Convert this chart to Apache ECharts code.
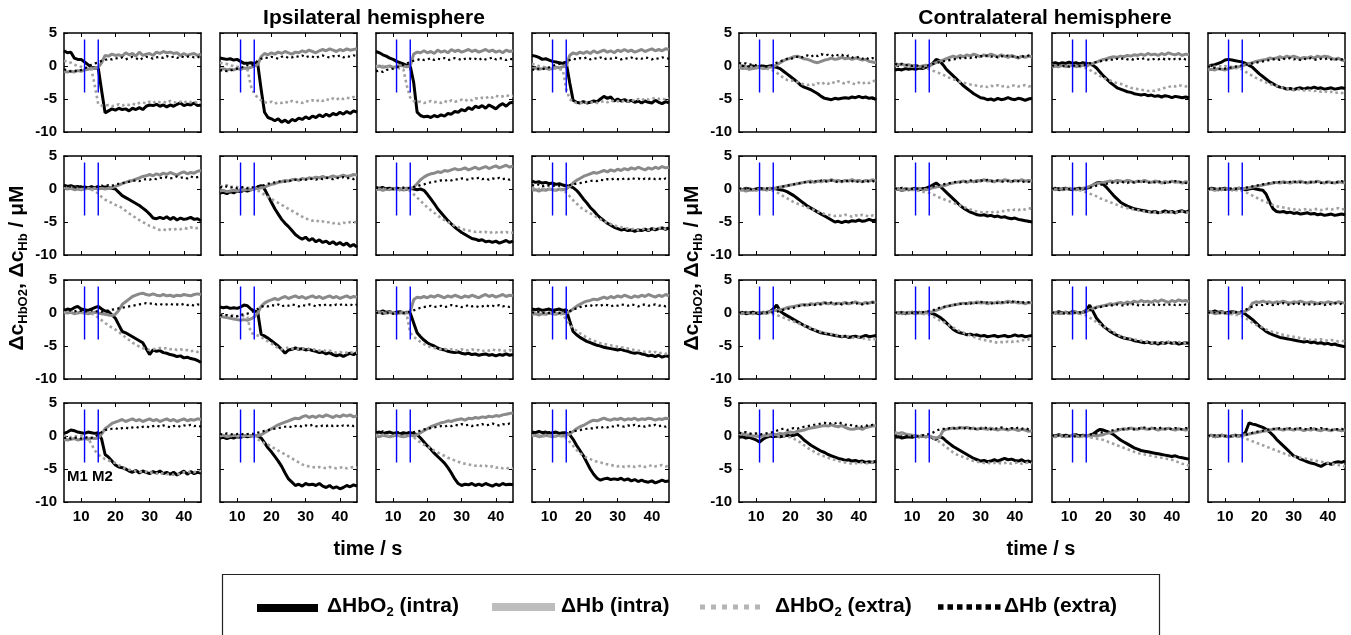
<!DOCTYPE html>
<html><head><meta charset="utf-8">
<script src="https://cdn.jsdelivr.net/npm/echarts@6/dist/echarts.min.js"></script>
<style>html,body{margin:0;padding:0;background:#fff}#c{width:1351px;height:635px}</style>
</head><body><div id="c"></div>
<script>
// time axis (s)
const time = [5,6,7,8,9,10,11,12,13,14,15,16,17,18,19,20,21,22,23,24,25,26,27,28,29,30,31,32,33,34,35,36,37,38,39,40,41,42,43,44,45];
const xTicks = [10,20,30,40];
const yTicks = [-10,-5,0,5];
const markerTimes = [11,15];
const markerSpan = [-4,4];
const markerLabels = ['M1','M2'];
// naming: I = ipsilateral, C = contralateral, row, col; a = dHbO2 intra, b = dHb intra, c = dHbO2 extra, d = dHb extra
const I11a=[2.3,2.0,2.1,1.2,1.0,1.0,0.6,0.2,-0.2,-0.3, -0.3,-3.8,-7.1,-6.8,-6.5,-6.7,-6.4,-6.6,-6.5,-6.8, -6.4,-6.6,-6.3,-6.6,-6.1,-5.9,-6.0,-5.8,-6.1,-5.9, -6.2,-5.9,-6.1,-5.8,-5.6,-6.0,-5.8,-5.9,-5.6,-6.0,-5.9];
const I11b=[-0.8,-0.9,-0.8,-0.9,-0.7,-0.8,-0.6,-0.5,-0.3,-0.4, -0.2,0.5,1.6,1.5,1.8,1.6,1.7,1.5,2.0,1.7, 1.9,1.5,2.1,1.6,1.8,1.9,1.6,2.1,1.9,2.2, 2.0,2.1,1.9,2.0,1.6,1.9,1.6,1.8,1.9,1.6,1.8];
const I11c=[0.8,0.7,0.5,0.2,0.0,-0.1,-0.3,-0.3,-0.5,-3.0, -5.8,-6.0,-6.0,-5.9,-6.1,-6.0,-5.8,-6.0,-5.8,-5.9, -5.7,-5.9,-5.6,-5.5,-5.7,-5.4,-5.6,-5.3,-5.5,-5.4, -5.6,-5.3,-5.5,-5.6,-5.4,-5.6,-5.3,-5.5,-5.4,-5.6,-5.5];
const I11d=[-0.5,-0.7,-0.8,-0.7,-0.8,-0.6,-0.4,-0.1,0.2,0.4, 0.5,0.8,0.9,1.1,1.0,1.2,1.1,1.3,1.0,1.2, 1.4,1.2,0.9,1.2,1.4,1.3,1.1,1.3,1.4,1.2, 1.5,1.3,1.4,1.2,1.5,1.3,1.4,1.5,1.3,1.4,1.2];
const I12a=[1.2,1.1,1.0,1.1,0.9,1.0,0.7,0.4,0.4,0.5, 0.4,0.4,-3.5,-7.0,-7.8,-8.0,-8.3,-8.0,-8.5,-8.2, -8.6,-8.1,-8.3,-7.9,-8.1,-7.7,-8.0,-7.6,-7.8,-7.4, -7.7,-7.3,-7.6,-7.2,-7.4,-7.0,-7.3,-6.9,-7.2,-6.8,-7.0];
const I12b=[-0.5,-0.4,-0.6,-0.5,-0.6,-0.4,-0.5,-0.3,-0.4,-0.2, 0.0,0.2,1.4,1.9,1.7,2.0,1.8,2.1,1.9,2.2, 2.0,1.8,2.1,2.0,2.3,2.1,2.4,2.2,2.0,2.3, 2.5,2.3,2.6,2.4,2.2,2.5,2.3,2.6,2.4,2.5,2.6];
const I12c=[0.5,0.4,0.3,0.1,0.0,-0.1,-0.2,-0.3,-0.5,-3.0, -4.2,-4.8,-5.2,-5.5,-5.6,-5.4,-5.7,-5.5,-5.6,-5.4, -5.6,-5.3,-5.5,-5.4,-5.6,-5.3,-5.4,-5.2,-5.4,-5.1, -5.3,-5.0,-5.2,-4.9,-5.1,-4.8,-5.0,-4.8,-4.9,-4.7,-4.8];
const I12d=[-0.7,-0.6,-0.8,-0.7,-0.5,-0.4,-0.3,-0.1,0.1,0.0, 0.3,0.8,1.1,1.3,1.2,1.4,1.3,1.1,1.4,1.5, 1.2,1.3,1.5,1.4,1.6,1.3,1.5,1.4,1.2,1.5, 1.6,1.4,1.3,1.5,1.4,1.6,1.3,1.5,1.4,1.6,1.5];
const I13a=[2.2,2.0,1.7,1.5,1.2,1.0,0.7,0.5,0.3,0.1, 0.0,-2.5,-7.0,-7.5,-7.7,-7.6,-7.8,-7.5,-7.7,-7.4, -7.6,-7.2,-7.3,-6.9,-7.0,-6.6,-6.8,-6.3,-6.6,-6.1, -6.3,-6.0,-6.4,-5.9,-6.2,-6.5,-6.0,-5.7,-6.1,-5.6,-5.5];
const I13b=[-0.1,0.0,-0.2,-0.1,0.0,-0.2,-0.1,0.1,0.0,-0.1, 0.0,1.8,2.1,2.0,2.3,2.0,2.2,1.9,2.4,2.1, 2.3,2.0,2.5,2.2,2.4,2.1,2.3,2.5,2.2,2.4, 2.1,2.3,2.5,2.2,2.4,2.1,2.3,2.0,2.4,2.2,2.3];
const I13c=[0.0,-0.1,0.0,-0.2,-0.1,-0.3,-0.2,-0.4,-0.5,-3.0, -4.8,-5.3,-5.5,-5.4,-5.6,-5.5,-5.3,-5.5,-5.4,-5.6, -5.3,-5.5,-5.2,-5.4,-5.3,-5.1,-5.3,-5.0,-5.2,-4.9, -5.0,-4.8,-4.9,-4.6,-4.8,-4.5,-4.7,-4.6,-4.4,-4.6,-4.5];
const I13d=[-0.8,-0.7,-0.9,-0.6,-0.5,-0.4,-0.2,0.0,0.2,0.4, 0.6,0.8,0.9,1.1,0.9,1.0,1.2,0.9,1.1,1.0, 1.2,0.9,1.0,1.2,1.1,0.9,1.1,1.2,1.0,1.1, 0.9,1.2,1.0,1.1,1.3,1.0,1.2,1.1,0.9,1.1,1.0];
const I14a=[1.6,1.5,1.3,1.0,1.1,0.9,0.7,0.6,0.5,0.4, 0.5,-2.5,-5.2,-5.5,-5.6,-5.4,-5.6,-5.5,-5.3,-5.4, -5.0,-4.6,-4.9,-4.7,-5.3,-5.0,-5.3,-5.1,-5.4,-5.2, -5.5,-5.3,-5.6,-5.3,-5.5,-5.6,-5.2,-5.5,-5.7,-5.4,-5.6];
const I14b=[-0.5,-0.3,-0.5,-0.4,-0.3,-0.5,-0.4,-0.2,-0.3,-0.1, 0.0,1.6,2.0,1.8,2.1,1.9,2.2,1.9,2.3,2.0, 2.2,2.4,2.1,2.3,2.0,2.4,2.2,2.5,2.2,2.4, 2.1,2.3,2.5,2.2,2.4,2.6,2.3,2.5,2.3,2.6,2.5];
const I14c=[0.3,0.2,0.0,-0.1,-0.2,-0.3,-0.3,-0.4,-0.5,-0.6, -3.5,-5.0,-5.4,-5.6,-5.5,-5.7,-5.5,-5.6,-5.4,-5.6, -5.5,-5.3,-5.5,-5.2,-5.4,-5.3,-5.5,-5.2,-5.4,-5.1, -5.3,-5.0,-5.2,-4.9,-5.1,-5.0,-4.8,-5.0,-4.9,-5.1,-4.9];
const I14d=[-0.5,-0.6,-0.4,-0.5,-0.3,-0.2,0.0,0.2,0.3,0.5, 0.7,0.9,1.1,1.0,1.2,1.1,1.3,1.0,1.2,1.1, 1.3,1.0,1.2,1.1,1.3,1.2,1.0,1.2,1.1,1.3, 1.0,1.2,1.1,1.3,1.2,1.0,1.2,1.1,1.3,1.2,1.1];
const I21a=[0.6,0.4,0.5,0.3,0.4,0.2,0.3,0.2,0.3,0.2, 0.3,0.2,0.3,0.2,0.1,0.0,-0.5,-1.0,-1.3,-1.6, -1.9,-2.2,-2.5,-2.9,-3.3,-3.8,-4.4,-4.5,-4.3,-4.5, -4.2,-4.6,-4.3,-4.7,-4.4,-4.6,-4.5,-4.3,-4.6,-4.5,-4.8];
const I21b=[0.2,0.0,0.1,-0.1,0.0,-0.1,0.0,0.1,0.0,0.1, 0.0,0.1,0.0,0.1,0.2,0.4,0.6,0.8,1.0,1.2, 1.3,1.5,1.7,1.9,2.0,2.2,2.0,2.3,2.1,2.4, 2.2,2.5,2.3,2.1,2.4,2.6,2.3,2.5,2.4,2.7,2.8];
const I21c=[0.3,0.2,0.3,0.1,0.2,0.0,0.1,0.0,-0.1,-0.3, -0.7,-1.2,-1.6,-1.9,-2.1,-2.4,-2.6,-2.9,-3.3,-3.7, -4.0,-4.4,-4.7,-5.0,-5.3,-5.6,-5.8,-6.0,-6.2,-6.1, -6.3,-6.1,-6.2,-6.0,-6.1,-5.9,-6.0,-5.8,-6.0,-5.9,-5.8];
const I21d=[0.5,0.3,0.4,0.2,0.3,0.4,0.2,0.3,0.4,0.3, 0.4,0.5,0.4,0.6,0.5,0.7,0.8,0.9,1.0,1.1, 1.2,1.3,1.2,1.4,1.5,1.4,1.6,1.5,1.7,1.6, 1.8,1.6,1.7,1.9,1.7,1.8,1.6,1.9,1.7,1.8,1.9];
const I22a=[-0.6,-0.5,-0.7,-0.4,-0.6,-0.3,-0.4,-0.2,-0.3,-0.1, 0.0,0.3,0.5,0.0,-1.0,-2.0,-3.0,-3.8,-4.6,-5.2, -5.7,-6.3,-6.9,-7.3,-7.6,-7.3,-7.8,-7.5,-8.0,-7.7, -8.1,-7.9,-8.3,-8.0,-8.4,-8.1,-8.5,-8.2,-8.7,-8.4,-8.8];
const I22b=[-0.3,-0.2,-0.4,-0.3,-0.2,-0.3,-0.1,-0.2,0.0,-0.1, 0.0,0.1,0.2,0.3,0.5,0.7,0.8,1.0,1.1,1.3, 1.2,1.4,1.5,1.3,1.6,1.5,1.7,1.6,1.8,1.7, 1.9,1.7,1.8,2.0,1.8,1.9,2.1,1.9,2.0,2.2,2.1];
const I22c=[0.5,0.4,0.6,0.3,0.4,0.3,0.2,0.3,0.2,0.1, 0.0,-0.2,-0.5,-0.9,-1.2,-1.5,-1.8,-2.1,-2.4,-2.7, -3.0,-3.3,-3.6,-3.9,-4.2,-4.5,-4.6,-4.8,-4.7,-5.0, -4.9,-5.1,-5.0,-5.2,-5.1,-5.3,-5.1,-5.2,-5.0,-5.1,-4.9];
const I22d=[0.3,0.2,0.4,0.2,0.3,0.1,0.2,0.3,0.1,0.2, 0.3,0.4,0.5,0.6,0.8,0.9,1.0,1.1,1.2,1.1, 1.3,1.2,1.4,1.3,1.5,1.4,1.6,1.5,1.4,1.6, 1.5,1.7,1.6,1.5,1.7,1.6,1.8,1.6,1.7,1.5,1.7];
const I23a=[0.2,0.1,0.2,0.0,0.1,0.0,0.1,0.0,-0.1,0.0, 0.1,0.0,-0.1,0.0,-0.2,-0.8,-1.5,-2.2,-3.0,-3.6, -4.2,-4.8,-5.3,-5.8,-6.2,-6.6,-6.9,-7.2,-7.5,-7.6, -7.8,-7.7,-8.0,-7.9,-8.1,-7.9,-8.2,-8.0,-7.8,-8.1,-7.9];
const I23b=[-0.1,0.0,-0.2,0.0,-0.1,0.1,0.0,-0.1,0.0,0.1, 0.0,0.3,0.8,1.4,1.8,2.1,2.3,2.4,2.6,2.5, 2.8,2.7,2.9,3.1,2.9,3.0,3.2,2.9,3.1,3.3, 3.0,3.2,3.4,3.1,3.3,3.5,3.2,3.4,3.6,3.3,3.5];
const I23c=[0.1,0.0,0.1,-0.1,0.0,-0.1,0.0,-0.2,-0.1,-0.2, -0.3,-0.8,-1.3,-1.8,-2.3,-2.8,-3.2,-3.6,-4.0,-4.4, -4.7,-5.0,-5.3,-5.6,-5.8,-6.0,-6.2,-6.3,-6.4,-6.5, -6.4,-6.6,-6.5,-6.7,-6.5,-6.6,-6.4,-6.6,-6.5,-6.7,-6.6];
const I23d=[0.2,0.1,0.3,0.1,0.2,0.0,0.2,0.1,0.2,0.1, 0.2,0.3,0.4,0.6,0.7,0.9,1.0,1.1,1.2,1.3, 1.2,1.4,1.3,1.5,1.4,1.6,1.5,1.4,1.6,1.5, 1.7,1.5,1.6,1.4,1.6,1.5,1.7,1.5,1.6,1.4,1.6];
const I24a=[1.2,1.0,1.1,0.9,1.0,0.8,0.9,0.7,0.8,0.6, 0.5,0.4,0.2,-0.2,-0.8,-1.5,-2.1,-2.8,-3.3,-3.9, -4.4,-4.8,-5.2,-5.5,-5.8,-6.0,-6.2,-6.1,-6.3,-6.2, -6.4,-6.2,-6.3,-6.1,-6.3,-6.0,-6.2,-6.0,-5.9,-6.1,-5.9];
const I24b=[-0.2,-0.1,-0.3,-0.1,-0.2,0.0,-0.1,-0.2,0.0,-0.1, 0.0,0.4,0.9,1.3,1.6,1.9,2.1,2.3,2.5,2.4, 2.6,2.8,2.6,2.9,2.7,3.0,2.8,3.1,2.9,3.2, 3.0,3.3,3.1,2.9,3.2,3.0,3.3,3.1,3.4,3.2,3.3];
const I24c=[0.2,0.1,0.0,0.1,-0.1,0.0,-0.1,-0.2,-0.1,-0.3, -0.5,-1.1,-1.7,-2.2,-2.7,-3.1,-3.4,-3.7,-4.0,-4.3, -4.6,-4.9,-5.1,-5.3,-5.5,-5.7,-5.8,-5.9,-6.0,-6.1, -6.0,-6.2,-6.1,-6.0,-6.2,-6.1,-6.0,-5.9,-6.1,-6.0,-5.8];
const I24d=[0.6,0.5,0.7,0.4,0.6,0.5,0.4,0.6,0.5,0.4, 0.5,0.6,0.7,0.8,0.9,1.0,1.1,1.2,1.3,1.2, 1.4,1.3,1.5,1.4,1.6,1.5,1.4,1.6,1.5,1.7, 1.5,1.6,1.4,1.6,1.5,1.7,1.5,1.6,1.4,1.6,1.5];
const I31a=[0.4,0.6,0.5,0.8,1.0,0.6,0.5,0.4,0.6,0.8, 1.0,0.6,0.3,0.2,-0.3,-0.8,-1.8,-2.8,-3.0,-3.3, -3.6,-3.9,-4.2,-4.5,-5.4,-6.3,-5.6,-5.8,-5.7,-6.0, -6.1,-6.3,-6.4,-6.6,-6.5,-6.8,-6.7,-6.9,-7.0,-7.2,-7.5];
const I31b=[0.1,0.0,0.1,-0.1,0.0,0.1,0.0,-0.1,0.0,0.1, 0.0,-0.1,-0.2,-0.3,-0.4,-0.2,0.4,1.3,1.7,2.1, 2.5,2.7,2.9,3.0,2.8,2.7,2.9,2.7,2.6,2.8, 2.6,2.7,2.5,2.7,2.6,2.8,2.7,2.6,2.8,2.9,2.8];
const I31c=[0.2,0.1,0.2,0.0,0.1,0.0,0.1,0.0,-0.1,-0.3, -0.7,-1.1,-1.5,-1.9,-2.2,-2.5,-2.9,-3.3,-3.7,-4.1, -4.5,-4.8,-5.1,-5.3,-5.5,-5.6,-5.5,-5.4,-5.3,-5.4, -5.3,-5.5,-5.4,-5.6,-5.5,-5.7,-5.6,-5.8,-5.7,-5.9,-5.9];
const I31d=[0.5,0.3,0.4,0.2,0.4,0.3,0.2,0.3,0.4,0.2, 0.3,0.2,0.3,0.4,0.5,0.6,0.7,0.8,0.9,1.0, 1.1,1.2,1.3,1.4,1.5,1.4,1.5,1.3,1.4,1.2, 1.3,1.4,1.2,1.3,1.2,1.4,1.2,1.3,1.1,1.3,1.2];
const I32a=[0.9,0.8,0.9,0.7,0.8,0.7,0.9,1.2,1.1,0.6, 0.3,0.2,-3.2,-3.5,-3.8,-4.2,-4.6,-5.0,-5.5,-6.1, -5.6,-5.5,-5.3,-5.5,-5.4,-5.6,-5.5,-5.7,-5.8,-6.0, -5.9,-6.2,-6.0,-6.3,-6.5,-6.3,-6.6,-6.3,-6.1,-6.3,-6.0];
const I32b=[-0.5,-0.6,-0.7,-0.8,-0.9,-1.0,-1.1,-1.0,-1.1,-0.9, -0.6,0.0,1.0,1.5,1.8,2.0,2.2,2.0,2.3,2.5, 2.2,2.4,2.6,2.3,2.5,2.2,2.4,2.6,2.3,2.5, 2.2,2.4,2.6,2.3,2.5,2.2,2.4,2.6,2.3,2.5,2.4];
const I32c=[-0.3,-0.2,-0.4,-0.3,-0.4,-0.5,-0.4,-0.5,-0.6,-3.0, -3.2,-3.4,-3.6,-4.0,-4.3,-4.6,-5.0,-5.3,-5.5,-5.4, -5.2,-5.4,-5.3,-5.5,-5.4,-5.3,-5.5,-5.6,-5.5,-5.7, -5.6,-5.8,-5.7,-5.9,-6.0,-5.9,-6.1,-6.0,-5.9,-6.1,-6.0];
const I32d=[-0.3,-0.4,-0.3,-0.5,-0.4,-0.5,-0.3,-0.2,-0.1,0.1, 0.3,0.6,0.9,1.1,1.0,1.2,1.1,1.3,1.0,1.2, 1.1,1.3,1.2,1.0,1.2,1.1,1.3,1.2,1.0,1.2, 1.1,1.3,1.2,1.1,1.3,1.2,1.4,1.2,1.3,1.1,1.3];
const I33a=[0.2,0.1,0.3,0.1,0.2,0.0,0.1,0.2,0.0,0.1, 0.0,-1.5,-3.0,-3.6,-4.1,-4.5,-4.8,-5.0,-5.3,-5.5, -5.6,-5.8,-5.9,-6.0,-5.9,-6.1,-6.2,-6.1,-6.3,-6.2, -6.4,-6.3,-6.2,-6.4,-6.3,-6.5,-6.3,-6.4,-6.2,-6.4,-6.3];
const I33b=[0.0,0.1,-0.1,0.0,0.1,0.0,-0.1,0.0,0.1,0.0, 0.2,2.0,2.4,2.3,2.5,2.3,2.6,2.4,2.7,2.5, 2.3,2.6,2.4,2.7,2.5,2.3,2.6,2.4,2.7,2.5, 2.3,2.6,2.8,2.5,2.7,2.4,2.6,2.8,2.5,2.7,2.6];
const I33c=[0.1,0.0,0.1,-0.1,0.0,0.1,-0.1,0.0,-0.1,-0.3, -3.0,-3.6,-4.0,-4.4,-4.7,-5.0,-5.2,-5.3,-5.4,-5.5, -5.4,-5.6,-5.5,-5.7,-5.6,-5.5,-5.7,-5.6,-5.5,-5.7, -5.6,-5.8,-5.6,-5.7,-5.5,-5.7,-5.6,-5.8,-5.7,-5.6,-5.8];
const I33d=[0.0,0.1,-0.1,0.0,0.1,-0.1,0.0,0.1,0.0,0.1, 0.2,0.4,0.6,0.8,0.9,1.0,1.1,0.9,1.0,1.1, 0.9,1.0,1.2,1.0,1.1,0.9,1.0,1.2,1.0,1.1, 0.9,1.0,1.2,1.0,1.1,1.0,1.2,1.0,1.1,0.9,1.1];
const I34a=[0.6,0.5,0.6,0.4,0.5,0.6,0.4,0.5,0.6,0.4, 0.5,-1.2,-2.8,-3.3,-3.7,-4.0,-4.3,-4.5,-4.7,-4.9, -5.0,-5.2,-5.3,-5.4,-5.5,-5.6,-5.5,-5.7,-5.8,-6.0, -6.1,-6.0,-6.2,-6.3,-6.5,-6.4,-6.6,-6.4,-6.7,-6.5,-6.6];
const I34b=[-0.2,-0.1,-0.3,-0.1,-0.2,0.0,-0.1,-0.2,0.0,-0.1, 0.0,0.2,0.6,1.0,1.3,1.6,1.8,1.9,2.1,2.0, 2.2,2.4,2.2,2.5,2.3,2.6,2.4,2.7,2.5,2.3, 2.6,2.4,2.7,2.5,2.8,2.6,2.4,2.7,2.5,2.8,2.6];
const I34c=[0.1,0.0,0.1,0.0,-0.1,0.0,-0.1,0.0,-0.1,-0.3, -1.0,-1.8,-2.3,-2.7,-3.1,-3.4,-3.7,-4.0,-4.2,-4.4, -4.6,-4.7,-4.8,-4.9,-5.0,-5.1,-5.2,-5.3,-5.4,-5.5, -5.6,-5.7,-5.8,-5.9,-5.8,-6.0,-5.9,-6.1,-6.0,-6.2,-6.1];
const I34d=[0.1,0.0,0.2,0.0,0.1,0.0,0.1,0.2,0.0,0.1, 0.2,0.3,0.5,0.7,0.9,1.0,1.1,1.2,1.0,1.2, 1.1,1.3,1.2,1.0,1.2,1.1,1.3,1.2,1.1,1.3, 1.2,1.0,1.2,1.3,1.1,1.2,1.3,1.1,1.2,1.0,1.2];
const I41a=[0.4,0.6,0.9,0.8,0.6,0.5,0.4,0.6,0.5,0.4, 0.5,-0.5,-2.8,-3.2,-3.8,-4.4,-4.7,-4.8,-5.0,-5.3, -5.5,-5.2,-5.6,-5.3,-5.5,-5.7,-5.4,-5.6,-5.3,-5.7, -5.5,-5.8,-5.5,-5.9,-5.6,-5.3,-5.8,-5.4,-5.7,-5.5,-5.6];
const I41b=[-0.5,-0.6,-0.5,-0.4,-0.6,-0.5,-0.4,-0.5,-0.3,-0.4, -0.3,0.3,1.1,1.5,1.9,2.1,2.3,2.5,2.2,2.4, 2.6,2.3,2.5,2.2,2.4,2.6,2.3,2.5,2.2,2.4, 2.6,2.3,2.5,2.2,2.4,2.6,2.3,2.5,2.4,2.6,2.5];
const I41c=[-0.1,0.0,-0.2,0.0,-0.1,0.0,-0.1,-0.3,-1.2,-2.2, -2.8,-3.2,-3.5,-3.7,-3.9,-4.1,-4.4,-4.7,-5.0,-5.1, -5.2,-5.3,-5.4,-5.5,-5.4,-5.6,-5.5,-5.7,-5.6,-5.7, -5.8,-5.7,-5.9,-5.8,-5.7,-5.5,-5.6,-5.4,-5.5,-5.3,-5.3];
const I41d=[-0.3,-0.2,-0.4,-0.3,-0.2,-0.4,-0.3,-0.2,-0.3,-0.1, 0.2,0.6,0.9,1.0,1.1,1.2,1.0,1.2,1.3,1.1, 1.3,1.4,1.2,1.4,1.5,1.3,1.5,1.6,1.4,1.6, 1.5,1.3,1.5,1.6,1.4,1.6,1.5,1.7,1.5,1.6,1.4];
const I42a=[-0.3,-0.2,-0.4,-0.2,-0.3,-0.1,-0.2,0.0,-0.1,0.0, 0.1,0.0,-0.3,-1.0,-1.8,-2.4,-3.1,-3.8,-4.6,-5.6, -6.5,-7.0,-7.5,-7.3,-7.6,-7.2,-7.4,-7.3,-7.5,-7.2, -7.6,-7.8,-7.5,-7.9,-7.7,-8.0,-7.8,-7.5,-7.7,-7.4,-7.6];
const I42b=[0.0,0.1,-0.1,0.0,0.1,0.0,0.1,0.0,0.1,0.0, 0.1,0.0,0.2,0.5,0.8,1.1,1.4,1.7,1.9,2.1, 2.3,2.5,2.7,2.6,2.9,3.1,2.8,3.0,2.8,3.1, 2.9,3.2,3.0,2.8,3.1,2.9,3.2,3.0,3.2,2.9,3.1];
const I42c=[0.1,0.0,0.1,0.0,0.1,0.0,-0.1,0.0,0.1,0.0, -0.2,-0.5,-0.8,-1.1,-1.3,-1.6,-1.9,-2.2,-2.5,-2.8, -3.1,-3.4,-3.7,-4.0,-4.3,-4.5,-4.6,-4.7,-4.8,-4.7, -4.8,-4.9,-4.7,-4.8,-4.9,-4.8,-4.7,-4.9,-4.8,-4.7,-4.8];
const I42d=[0.3,0.2,0.4,0.3,0.2,0.3,0.4,0.2,0.3,0.4, 0.3,0.5,0.6,0.8,0.9,1.0,1.1,1.2,1.3,1.4, 1.5,1.3,1.5,1.6,1.4,1.6,1.5,1.7,1.5,1.4, 1.6,1.5,1.7,1.5,1.6,1.4,1.6,1.5,1.7,1.5,1.6];
const I43a=[0.5,0.6,0.4,0.5,0.6,0.4,0.5,0.3,0.5,0.4, 0.5,0.4,0.2,-0.3,-0.9,-1.5,-2.0,-2.6,-3.1,-3.6, -4.1,-4.8,-5.6,-6.5,-7.2,-7.5,-7.3,-7.4,-7.2,-7.5, -7.3,-7.5,-7.2,-7.4,-7.6,-7.3,-7.5,-7.2,-7.4,-7.3,-7.4];
const I43b=[0.0,-0.1,0.1,0.0,-0.1,0.0,0.1,0.0,-0.1,0.0, 0.1,0.0,0.2,0.5,0.8,1.1,1.4,1.6,1.8,2.0, 2.1,2.3,2.2,2.4,2.5,2.6,2.4,2.7,2.6,2.8, 2.7,2.9,2.8,3.0,2.9,3.1,3.0,3.2,3.3,3.4,3.5];
const I43c=[0.2,0.1,0.2,0.0,0.1,0.2,0.0,0.1,0.0,0.1, 0.0,-0.2,-0.6,-1.0,-1.3,-1.6,-1.9,-2.2,-2.5,-2.8, -3.0,-3.3,-3.5,-3.7,-3.9,-4.1,-4.2,-4.3,-4.4,-4.5, -4.4,-4.6,-4.5,-4.7,-4.6,-4.8,-4.7,-4.9,-4.8,-5.0,-4.9];
const I43d=[0.6,0.5,0.7,0.5,0.6,0.4,0.6,0.5,0.4,0.6, 0.5,0.6,0.7,0.8,1.0,1.1,1.2,1.3,1.4,1.5, 1.4,1.6,1.5,1.7,1.6,1.8,1.6,1.7,1.5,1.7, 1.6,1.8,1.6,1.7,1.9,1.7,1.6,1.8,1.7,1.9,1.8];
const I44a=[0.6,0.5,0.7,0.5,0.6,0.4,0.5,0.6,0.4,0.5, 0.4,0.2,-0.5,-1.4,-2.2,-3.0,-4.0,-5.0,-5.8,-6.4, -6.7,-6.5,-6.4,-6.6,-6.5,-6.6,-6.4,-6.7,-6.5,-6.8, -6.6,-6.9,-6.7,-6.9,-7.0,-6.8,-7.1,-6.9,-6.7,-6.9,-6.8];
const I44b=[0.0,0.1,-0.1,0.0,0.1,0.0,-0.1,0.0,0.1,0.0, 0.1,0.3,0.7,1.1,1.4,1.6,1.9,2.2,2.4,2.3, 2.5,2.7,2.5,2.4,2.6,2.5,2.7,2.4,2.6,2.5, 2.7,2.4,2.6,2.5,2.7,2.6,2.4,2.6,2.5,2.7,2.6];
const I44c=[0.1,0.0,0.1,-0.1,0.0,0.1,0.0,-0.1,0.0,-0.1, -0.3,-0.9,-1.5,-2.1,-2.6,-3.0,-3.3,-3.5,-3.7,-3.9, -4.0,-4.2,-4.3,-4.4,-4.5,-4.6,-4.5,-4.7,-4.6,-4.5, -4.7,-4.6,-4.5,-4.7,-4.6,-4.4,-4.6,-4.5,-4.4,-4.6,-4.5];
const I44d=[0.5,0.4,0.6,0.4,0.5,0.6,0.4,0.5,0.4,0.6, 0.5,0.6,0.7,0.8,0.9,1.0,1.1,1.2,1.1,1.3, 1.2,1.4,1.3,1.5,1.4,1.6,1.5,1.4,1.6,1.5, 1.7,1.5,1.6,1.4,1.6,1.5,1.7,1.5,1.6,1.4,1.6];
const C11a=[-0.1,0.0,-0.2,-0.1,0.0,-0.2,-0.1,0.0,-0.1,0.0, -0.1,-0.2,-0.4,-0.8,-1.2,-1.6,-2.0,-2.4,-2.9,-3.2, -3.4,-3.6,-3.9,-4.2,-4.6,-4.9,-5.0,-5.1,-4.9,-5.0, -4.9,-4.8,-4.9,-4.7,-4.8,-4.6,-4.8,-4.7,-4.9,-4.8,-5.1];
const C11b=[-0.2,-0.4,-0.3,-0.5,-0.4,-0.3,-0.2,-0.4,-0.3,-0.2, -0.1,0.2,0.5,0.8,1.0,1.2,1.4,1.5,1.3,1.1, 1.0,0.8,0.6,0.5,0.7,0.9,1.0,1.2,1.0,1.1, 1.3,1.1,1.2,1.0,1.2,1.1,0.9,1.0,0.7,0.6,0.5];
const C11c=[0.1,0.0,-0.1,0.0,-0.2,-0.1,-0.2,-0.3,-0.4,-0.5, -0.7,-1.0,-1.4,-1.8,-2.1,-2.3,-2.2,-2.4,-2.6,-2.8, -2.9,-2.7,-2.9,-2.6,-2.8,-2.5,-2.7,-2.4,-2.6,-2.3, -2.5,-2.7,-2.4,-2.6,-2.8,-2.5,-2.7,-2.4,-2.6,-2.3,-2.2];
const C11d=[0.5,0.3,0.4,0.2,0.3,0.1,0.0,0.1,-0.1,0.0, 0.2,0.5,0.7,0.9,1.1,1.0,1.3,1.4,1.2,1.5, 1.6,1.4,1.7,1.5,1.8,1.6,1.7,1.5,1.8,1.6, 1.7,1.4,1.6,1.3,1.2,1.4,1.1,1.3,1.0,1.2,1.0];
const C12a=[-0.6,-0.5,-0.6,-0.4,-0.5,-0.4,-0.5,-0.3,-0.4,-0.2, 0.0,0.4,1.0,0.8,0.2,-0.5,-1.0,-1.5,-2.0,-2.5, -3.0,-3.4,-3.8,-4.2,-4.5,-4.8,-4.9,-5.1,-5.0,-5.2, -4.9,-5.1,-5.0,-4.8,-5.0,-5.1,-4.9,-5.0,-5.2,-5.0,-4.9];
const C12b=[0.4,0.2,0.3,0.1,0.2,0.0,0.1,-0.1,0.0,0.1, 0.0,0.3,0.5,0.7,0.9,1.1,1.3,1.5,1.3,1.6, 1.4,1.7,1.5,1.8,1.6,1.4,1.7,1.5,1.8,1.6, 1.4,1.7,1.5,1.3,1.6,1.4,1.2,1.5,1.3,1.5,1.4];
const C12c=[0.1,0.0,0.2,0.0,0.1,-0.1,0.0,-0.1,-0.2,-0.3, -0.5,-0.7,-0.9,-1.1,-1.3,-1.6,-1.8,-2.0,-2.2,-2.4, -2.5,-2.7,-2.8,-2.9,-3.0,-3.1,-3.0,-3.2,-3.0,-3.1, -2.9,-3.1,-3.0,-3.2,-3.0,-2.9,-3.1,-3.0,-2.9,-3.1,-3.0];
const C12d=[0.3,0.2,0.3,0.1,0.2,0.0,0.1,0.0,-0.1,0.0, 0.1,0.3,0.4,0.6,0.7,0.8,0.9,1.0,1.1,1.2, 1.1,1.3,1.2,1.4,1.3,1.5,1.4,1.6,1.4,1.5, 1.3,1.5,1.4,1.6,1.4,1.5,1.3,1.5,1.4,1.6,1.5];
const C13a=[0.4,0.5,0.3,0.5,0.4,0.6,0.4,0.5,0.3,0.5, 0.4,0.3,0.1,-0.3,-0.9,-1.5,-2.0,-2.5,-2.9,-3.3, -3.5,-3.7,-3.9,-4.0,-4.2,-4.3,-4.4,-4.3,-4.5,-4.4, -4.6,-4.5,-4.7,-4.5,-4.6,-4.8,-4.6,-4.7,-4.8,-4.7,-4.8];
const C13b=[-0.2,0.0,-0.1,0.1,-0.1,0.0,0.1,-0.1,0.0,0.1, 0.0,0.2,0.4,0.6,0.8,1.0,1.1,1.3,1.4,1.3, 1.5,1.4,1.6,1.5,1.7,1.6,1.8,1.6,1.9,1.7, 1.8,1.6,1.9,1.7,2.0,1.8,1.7,1.9,1.6,1.8,1.7];
const C13c=[0.2,0.0,0.1,-0.1,0.0,0.1,-0.1,0.0,-0.1,-0.2, -0.3,-0.6,-0.9,-1.2,-1.5,-1.8,-2.0,-2.2,-2.4,-2.6, -2.7,-2.9,-3.1,-3.3,-3.4,-3.5,-3.6,-3.7,-3.8,-3.7, -3.8,-3.6,-3.5,-3.3,-3.2,-3.0,-3.1,-2.9,-3.0,-3.1,-3.0];
const C13d=[0.1,0.0,0.2,0.0,0.1,-0.1,0.0,0.1,0.0,0.1, 0.2,0.4,0.5,0.6,0.7,0.8,0.9,1.0,0.9,1.1, 1.0,1.2,1.0,1.1,0.9,1.1,1.0,1.2,1.0,0.9, 1.1,1.0,1.2,1.0,1.1,0.9,1.1,1.0,1.2,1.0,1.1];
const C14a=[0.0,0.1,0.2,0.4,0.6,0.9,1.0,0.9,0.8,0.7, 0.6,0.4,0.1,-0.2,-0.7,-1.2,-1.6,-2.0,-2.4,-2.7, -3.0,-3.2,-3.3,-3.5,-3.4,-3.6,-3.4,-3.3,-3.5,-3.3, -3.4,-3.2,-3.4,-3.3,-3.5,-3.4,-3.3,-3.5,-3.4,-3.3,-3.4];
const C14b=[-0.6,-0.5,-0.6,-0.4,-0.5,-0.6,-0.4,-0.3,-0.2,-0.1, 0.0,0.2,0.4,0.5,0.7,0.8,0.9,1.0,1.2,1.1, 1.2,1.4,1.2,1.5,1.3,1.5,1.3,1.1,1.3,1.2, 1.4,1.2,1.5,1.3,1.5,1.4,1.2,1.0,1.2,0.9,0.8];
const C14c=[0.0,0.1,-0.1,0.0,-0.1,0.0,-0.2,-0.1,-0.3,-0.4, -0.5,-0.9,-1.2,-1.5,-1.8,-2.0,-2.3,-2.5,-2.7,-2.9, -3.0,-3.2,-3.3,-3.4,-3.5,-3.6,-3.5,-3.6,-3.7,-3.6, -3.7,-3.8,-3.7,-3.9,-3.8,-4.0,-3.9,-4.1,-4.0,-4.1,-4.1];
const C14d=[0.0,-0.2,-0.3,-0.4,-0.5,-0.4,-0.3,-0.2,-0.1,0.0, 0.1,0.2,0.3,0.4,0.5,0.6,0.7,0.8,0.9,1.0, 1.1,0.9,1.1,1.0,1.2,1.0,1.1,0.9,1.1,1.0, 1.2,1.0,0.9,1.1,1.0,1.2,1.0,1.1,0.9,1.0,1.1];
const C21a=[0.0,-0.1,0.1,0.0,-0.1,0.0,0.1,0.0,-0.1,0.0, 0.1,0.0,-0.1,-0.2,-0.4,-0.7,-1.0,-1.4,-1.8,-2.2, -2.6,-2.9,-3.2,-3.5,-3.8,-4.1,-4.4,-4.7,-5.0,-4.9, -5.1,-4.9,-5.0,-4.8,-4.9,-4.7,-4.9,-4.8,-4.6,-4.8,-4.7];
const C21b=[-0.2,-0.1,-0.3,-0.2,-0.1,-0.2,0.0,-0.1,0.0,0.1, 0.0,0.2,0.3,0.4,0.5,0.6,0.7,0.8,0.9,1.0, 1.1,1.2,1.0,1.2,1.1,1.3,1.2,1.4,1.2,1.3, 1.1,1.3,1.2,1.4,1.2,1.3,1.1,1.3,1.2,1.4,1.2];
const C21c=[0.1,0.0,0.1,-0.1,0.0,-0.1,0.0,-0.1,-0.2,-0.1, -0.3,-0.5,-0.8,-1.1,-1.4,-1.7,-2.0,-2.2,-2.4,-2.6, -2.8,-3.0,-3.2,-3.4,-3.6,-3.8,-3.9,-4.0,-4.1,-4.0, -4.1,-3.9,-4.0,-4.2,-4.0,-4.1,-3.9,-4.0,-4.2,-4.0,-4.1];
const C21d=[0.1,0.0,0.1,0.0,-0.1,0.0,0.1,0.0,0.1,0.0, 0.1,0.2,0.3,0.4,0.5,0.6,0.7,0.8,0.9,1.0, 1.1,1.0,1.2,1.1,1.3,1.2,1.1,1.3,1.2,1.0, 1.2,1.1,1.3,1.2,1.0,1.2,1.1,1.3,1.1,1.2,1.0];
const C22a=[-0.1,0.0,-0.2,0.0,-0.1,0.0,0.1,-0.1,0.0,0.1, 0.3,0.6,0.9,0.5,0.0,-0.5,-1.0,-1.5,-2.0,-2.5, -2.9,-3.2,-3.5,-3.7,-3.9,-4.0,-3.9,-4.1,-4.0,-4.2, -4.1,-4.3,-4.2,-4.4,-4.5,-4.4,-4.6,-4.7,-4.8,-4.9,-5.0];
const C22b=[-0.1,0.0,-0.2,-0.1,0.0,-0.1,0.0,0.1,0.0,-0.1, 0.0,0.2,0.3,0.4,0.5,0.6,0.8,0.9,1.0,1.1, 1.2,1.0,1.2,1.1,1.3,1.2,1.4,1.2,1.3,1.1, 1.3,1.2,1.4,1.3,1.1,1.3,1.2,1.4,1.2,1.3,1.2];
const C22c=[0.1,0.0,0.1,-0.1,0.0,-0.1,-0.2,-0.3,-0.4,-0.5, -0.6,-0.8,-1.0,-1.3,-1.5,-1.7,-1.9,-2.1,-2.3,-2.5, -2.7,-2.9,-3.1,-3.3,-3.4,-3.5,-3.6,-3.5,-3.6,-3.4, -3.5,-3.3,-3.4,-3.2,-3.3,-3.1,-3.2,-3.0,-3.1,-2.9,-3.0];
const C22d=[0.1,0.0,0.2,0.0,0.1,0.0,0.1,0.0,0.1,0.2, 0.3,0.4,0.5,0.6,0.7,0.8,0.9,1.0,1.1,1.0, 1.2,1.1,1.3,1.2,1.1,1.3,1.2,1.4,1.2,1.1, 1.3,1.2,1.0,1.2,1.1,1.3,1.2,1.0,1.2,1.1,1.0];
const C23a=[0.0,0.1,-0.1,0.0,0.1,0.0,-0.1,0.0,0.1,0.0, 0.1,0.3,0.6,0.9,1.0,0.7,0.2,-0.4,-1.0,-1.5, -2.0,-2.3,-2.6,-2.8,-3.0,-3.1,-3.2,-3.3,-3.4,-3.5, -3.4,-3.6,-3.5,-3.3,-3.5,-3.4,-3.6,-3.4,-3.3,-3.5,-3.3];
const C23b=[0.0,-0.1,0.1,-0.1,0.0,0.1,0.0,-0.1,0.0,0.1, 0.2,0.4,0.6,0.8,0.9,1.0,1.1,1.2,1.1,1.3, 1.2,1.1,1.3,1.2,1.0,1.2,1.1,1.3,1.1,1.0, 1.2,1.1,0.9,1.1,1.0,1.2,1.0,1.1,0.9,1.1,1.0];
const C23c=[0.1,0.0,0.1,-0.1,0.0,0.1,-0.1,0.0,-0.2,-0.3, -0.5,-0.7,-0.9,-1.1,-1.4,-1.6,-1.8,-2.0,-2.2,-2.4, -2.6,-2.8,-2.9,-3.0,-3.1,-3.2,-3.3,-3.4,-3.5,-3.4, -3.5,-3.6,-3.5,-3.6,-3.4,-3.5,-3.6,-3.5,-3.4,-3.6,-3.5];
const C23d=[0.1,0.0,0.1,0.0,-0.1,0.0,0.1,0.0,0.1,0.0, 0.1,0.2,0.3,0.5,0.6,0.7,0.8,0.9,1.0,0.9, 1.1,1.0,0.9,1.1,1.0,1.2,1.0,1.1,0.9,1.1, 1.0,1.2,1.0,0.9,1.1,1.0,1.2,1.0,1.1,0.9,1.0];
const C24a=[0.0,0.1,0.0,-0.1,0.0,0.1,0.0,-0.1,0.0,0.1, 0.0,-0.1,0.0,0.1,0.0,-0.1,-0.2,-0.8,-2.0,-3.0, -3.4,-3.5,-3.4,-3.6,-3.5,-3.7,-3.6,-3.8,-3.7,-3.6, -3.8,-3.7,-3.9,-3.8,-4.0,-3.9,-3.8,-4.0,-3.9,-3.8,-3.9];
const C24b=[-0.1,0.0,-0.2,0.0,-0.1,0.0,0.1,-0.1,0.0,0.1, 0.0,0.1,0.2,0.3,0.4,0.5,0.6,0.7,0.8,0.9, 1.0,0.9,1.1,1.0,0.9,1.1,1.0,1.2,1.0,0.9, 1.1,1.0,1.2,1.0,0.9,1.1,1.0,0.9,1.1,1.0,0.9];
const C24c=[0.0,0.1,-0.1,0.0,0.1,-0.1,0.0,-0.1,-0.2,-0.2, -0.3,-0.5,-0.7,-1.0,-1.3,-1.5,-1.8,-2.0,-2.2,-2.4, -2.6,-2.7,-2.8,-2.9,-3.0,-3.1,-3.0,-3.2,-3.1,-3.0, -3.2,-3.1,-3.0,-3.2,-3.1,-3.0,-3.1,-3.0,-2.9,-3.1,-3.0];
const C24d=[0.0,0.1,0.0,0.1,0.0,-0.1,0.0,0.1,0.0,0.1, 0.1,0.2,0.3,0.4,0.5,0.6,0.7,0.8,0.9,1.0, 0.9,1.1,1.0,0.9,1.1,1.0,1.2,1.0,0.9,1.1, 1.0,1.2,1.0,0.9,1.1,1.0,0.9,1.1,1.0,1.2,1.0];
const C31a=[0.0,0.1,-0.1,0.0,0.1,0.0,-0.1,0.1,0.0,0.2, 0.6,1.2,0.3,-0.1,-0.4,-0.7,-1.0,-1.3,-1.6,-1.9, -2.1,-2.4,-2.6,-2.8,-3.0,-3.1,-3.2,-3.3,-3.4,-3.5, -3.6,-3.5,-3.7,-3.6,-3.5,-3.7,-3.6,-3.4,-3.6,-3.5,-3.4];
const C31b=[0.0,-0.1,0.1,0.0,-0.1,0.0,0.1,0.0,0.1,0.2, 0.3,0.4,0.5,0.6,0.8,0.9,1.0,1.1,1.2,1.3, 1.2,1.4,1.3,1.5,1.4,1.6,1.4,1.5,1.3,1.5, 1.4,1.6,1.4,1.5,1.7,1.5,1.4,1.6,1.5,1.7,1.5];
const C31c=[0.1,0.0,0.1,-0.1,0.0,0.1,0.0,-0.1,0.0,-0.1, -0.2,-0.3,-0.5,-0.7,-0.9,-1.1,-1.3,-1.5,-1.7,-1.9, -2.1,-2.3,-2.5,-2.7,-2.9,-3.0,-3.1,-3.2,-3.3,-3.4, -3.5,-3.6,-3.5,-3.7,-3.8,-3.7,-3.9,-3.8,-4.0,-3.9,-4.0];
const C31d=[0.1,0.0,0.1,0.0,0.1,0.0,-0.1,0.0,0.1,0.0, 0.1,0.2,0.3,0.5,0.6,0.7,0.8,1.0,1.1,1.2, 1.1,1.3,1.2,1.4,1.3,1.5,1.4,1.6,1.4,1.5, 1.3,1.5,1.4,1.6,1.4,1.5,1.3,1.5,1.4,1.6,1.5];
const C32a=[0.1,0.0,0.1,-0.1,0.0,0.1,0.0,0.1,0.0,0.1, 0.0,-0.1,-0.3,-0.6,-1.0,-1.5,-2.0,-2.5,-2.8,-3.0, -3.1,-3.3,-3.2,-3.4,-3.3,-3.5,-3.4,-3.6,-3.5,-3.4, -3.6,-3.5,-3.4,-3.6,-3.5,-3.3,-3.5,-3.4,-3.6,-3.5,-3.4];
const C32b=[0.0,0.1,-0.1,0.0,0.1,0.0,-0.1,0.0,0.1,0.0, 0.1,0.2,0.4,0.6,0.8,1.0,1.1,1.2,1.3,1.4, 1.5,1.4,1.6,1.5,1.7,1.5,1.6,1.4,1.6,1.5, 1.7,1.5,1.6,1.8,1.6,1.7,1.5,1.6,1.4,1.6,1.5];
const C32c=[0.1,0.0,0.1,0.0,-0.1,0.0,0.1,0.0,-0.1,-0.2, -0.3,-0.5,-0.8,-1.1,-1.3,-1.6,-1.9,-2.2,-2.5,-2.8, -3.0,-3.2,-3.4,-3.6,-3.8,-4.0,-4.1,-4.2,-4.3,-4.4, -4.5,-4.4,-4.5,-4.3,-4.4,-4.2,-4.3,-4.1,-4.2,-4.0,-4.1];
const C32d=[0.1,0.0,0.1,0.0,0.1,0.0,0.1,0.0,0.1,0.2, 0.3,0.4,0.6,0.8,0.9,1.0,1.1,1.2,1.3,1.4, 1.3,1.5,1.4,1.6,1.5,1.7,1.5,1.6,1.4,1.6, 1.5,1.7,1.5,1.6,1.8,1.6,1.7,1.5,1.7,1.6,1.8];
const C33a=[0.1,0.0,0.2,0.0,0.1,0.0,0.2,0.1,0.0,0.1, 0.4,1.2,0.2,-0.8,-1.4,-2.0,-2.4,-2.8,-3.1,-3.4, -3.6,-3.8,-3.9,-4.0,-4.2,-4.3,-4.4,-4.5,-4.4,-4.6, -4.5,-4.7,-4.5,-4.6,-4.4,-4.6,-4.5,-4.7,-4.6,-4.5,-4.6];
const C33b=[0.0,0.1,-0.1,0.0,0.1,-0.1,0.0,0.1,0.0,0.1, 0.2,0.5,0.7,0.9,1.0,1.1,1.2,1.4,1.3,1.5, 1.6,1.4,1.7,1.5,1.8,1.6,1.9,1.7,1.8,1.6, 1.9,1.7,2.0,1.8,1.6,1.9,1.7,2.0,1.8,1.9,1.7];
const C33c=[0.1,0.0,0.1,-0.1,0.0,0.1,-0.1,0.0,-0.1,-0.2, -0.4,-0.7,-1.0,-1.4,-1.7,-2.0,-2.3,-2.6,-2.9,-3.2, -3.5,-3.7,-3.8,-3.9,-4.0,-4.1,-4.2,-4.3,-4.4,-4.5, -4.6,-4.5,-4.6,-4.5,-4.4,-4.6,-4.5,-4.4,-4.6,-4.5,-4.4];
const C33d=[0.1,0.0,0.1,0.0,-0.1,0.0,0.1,0.0,0.1,0.0, 0.2,0.4,0.6,0.8,0.9,1.0,1.1,1.2,1.1,1.3, 1.2,1.1,1.3,1.2,1.4,1.2,1.1,1.3,1.2,1.4, 1.2,1.3,1.1,1.3,1.2,1.4,1.2,1.3,1.1,1.3,1.2];
const C34a=[0.2,0.1,0.3,0.1,0.2,0.0,0.1,0.2,0.1,0.0, 0.1,-0.2,-0.6,-1.0,-1.5,-2.0,-2.4,-2.8,-3.1,-3.3, -3.5,-3.7,-3.8,-3.9,-4.0,-4.1,-4.2,-4.3,-4.4,-4.3, -4.5,-4.4,-4.6,-4.5,-4.7,-4.6,-4.8,-4.7,-4.9,-5.0,-5.1];
const C34b=[0.0,0.1,-0.1,0.0,0.1,0.0,-0.1,0.0,0.1,0.0, 0.1,0.3,0.6,1.5,1.7,1.6,1.8,1.6,1.7,1.5, 1.7,1.6,1.8,1.6,1.5,1.7,1.6,1.8,1.6,1.5, 1.7,1.6,1.4,1.6,1.5,1.7,1.6,1.5,1.7,1.6,1.5];
const C34c=[0.1,0.0,0.1,0.0,-0.1,0.0,-0.1,-0.2,-0.3,-0.3, -0.5,-0.8,-1.1,-1.5,-1.8,-2.0,-2.2,-2.5,-2.7,-2.9, -3.0,-3.2,-3.3,-3.4,-3.5,-3.6,-3.7,-3.8,-3.9,-4.0, -4.1,-4.0,-4.1,-4.0,-4.1,-4.2,-4.1,-4.2,-4.3,-4.2,-4.3];
const C34d=[0.1,0.0,0.1,0.0,0.1,0.0,0.1,0.0,0.1,0.2, 0.3,0.5,0.8,1.0,1.2,1.3,1.2,1.4,1.3,1.2, 1.4,1.3,1.5,1.3,1.2,1.4,1.3,1.5,1.3,1.2, 1.4,1.3,1.5,1.3,1.2,1.4,1.3,1.5,1.3,1.4,1.2];
const C41a=[-0.2,-0.1,-0.3,-0.2,-0.4,-0.6,-0.9,-0.5,-0.2,0.0, -0.1,0.0,-0.1,0.0,0.1,0.0,0.1,0.3,-0.1,-0.6, -1.0,-1.4,-1.7,-2.0,-2.3,-2.5,-2.8,-3.0,-3.2,-3.4, -3.5,-3.7,-3.6,-3.8,-3.7,-3.9,-3.8,-4.0,-3.9,-4.0,-3.8];
const C41b=[0.4,0.3,0.2,0.1,0.0,0.0,-0.1,0.0,0.1,0.2, 0.3,0.2,0.4,0.3,0.5,0.6,0.5,0.7,0.8,0.9, 1.1,1.2,1.3,1.4,1.5,1.6,1.5,1.7,1.5,1.4, 1.6,1.3,1.1,1.0,1.1,1.2,1.0,1.3,1.4,1.5,1.6];
const C41c=[0.4,0.3,0.4,0.2,0.3,0.2,0.1,0.2,0.1,0.0, 0.1,0.0,-0.1,0.0,-0.1,-0.2,-0.4,-0.7,-1.0,-1.4, -1.8,-2.1,-2.4,-2.7,-2.9,-3.1,-3.3,-3.5,-3.6,-3.8, -3.9,-4.0,-4.1,-4.2,-4.1,-4.2,-4.0,-4.1,-4.2,-4.0,-4.1];
const C41d=[0.5,0.4,0.6,0.4,0.3,0.4,0.2,0.3,0.4,0.5, 0.6,0.8,1.0,1.1,0.9,1.1,1.2,1.1,1.3,1.4, 1.5,1.6,1.7,1.8,1.9,2.0,1.8,2.0,1.9,2.1, 1.9,1.7,1.8,1.6,1.5,1.6,1.4,1.6,1.5,1.7,1.5];
const C42a=[-0.2,-0.1,-0.3,-0.2,-0.1,-0.2,0.0,-0.1,0.0,-0.1, 0.0,-0.3,-0.5,-0.1,-0.3,-0.8,-1.2,-1.6,-1.9,-2.2, -2.5,-2.8,-3.1,-3.4,-3.6,-3.8,-3.7,-3.9,-3.8,-3.6, -3.8,-3.6,-3.4,-3.6,-3.5,-3.7,-3.8,-3.6,-3.9,-3.8,-4.0];
const C42b=[0.5,0.4,0.5,0.3,0.2,0.1,0.0,-0.1,0.0,-0.1, 0.0,-0.2,-0.3,-0.2,0.8,1.0,1.1,1.2,1.1,1.3, 1.2,1.3,1.1,1.2,1.0,1.2,1.1,1.0,1.2,1.0, 0.9,1.1,1.0,0.9,1.1,1.0,0.8,1.0,0.9,0.7,0.8];
const C42c=[0.5,0.4,0.3,0.2,0.3,0.1,0.2,0.0,0.1,0.0, -0.1,-0.3,-0.6,-0.9,-1.3,-1.7,-2.1,-2.5,-2.8,-3.0, -3.2,-3.4,-3.6,-3.8,-3.9,-4.0,-4.1,-4.0,-4.2,-4.1, -4.0,-4.2,-4.1,-4.0,-4.2,-4.1,-4.0,-4.2,-4.1,-4.0,-4.1];
const C42d=[0.0,0.1,-0.1,0.0,0.1,0.0,-0.1,0.0,0.1,0.2, 0.3,0.5,0.8,1.0,1.1,1.0,1.2,1.1,1.3,1.2, 1.1,1.3,1.2,1.0,1.2,1.1,1.3,1.2,1.0,1.2, 1.1,1.3,1.2,1.0,1.2,1.1,1.3,1.1,1.2,1.0,1.1];
const C43a=[0.1,0.0,0.2,0.0,0.1,0.0,0.1,0.2,0.0,0.1, 0.0,0.1,0.3,0.7,1.0,0.9,0.7,0.5,0.2,-0.2, -0.6,-0.9,-1.2,-1.5,-1.8,-2.0,-2.2,-2.3,-2.4,-2.5, -2.6,-2.7,-2.8,-2.9,-3.0,-3.1,-3.0,-3.2,-3.3,-3.4,-3.5];
const C43b=[0.0,-0.1,0.1,0.0,-0.1,0.0,0.1,0.0,-0.1,0.0, 0.1,0.0,0.1,0.0,0.1,0.2,0.4,0.5,0.7,0.8, 1.0,1.1,1.0,1.2,1.1,1.0,1.2,1.1,1.0,1.2, 1.1,0.9,1.1,1.0,1.2,1.0,0.9,1.1,1.0,0.9,1.0];
const C43c=[0.1,0.0,0.1,-0.1,0.0,0.1,0.0,-0.1,0.0,-0.1, -0.1,-0.2,-0.3,-0.4,-0.5,-0.6,-0.8,-1.0,-1.2,-1.4, -1.6,-1.8,-2.0,-2.2,-2.4,-2.6,-2.7,-2.8,-2.9,-3.0, -3.1,-3.2,-3.3,-3.4,-3.5,-3.6,-3.8,-4.0,-4.2,-4.3,-4.5];
const C43d=[0.1,0.0,0.1,0.0,0.1,0.0,-0.1,0.0,0.1,0.0, 0.1,0.2,0.3,0.4,0.5,0.6,0.7,0.8,0.9,1.0, 1.1,1.0,1.2,1.1,1.0,1.2,1.1,1.3,1.1,1.0, 1.2,1.1,1.3,1.1,1.2,1.0,1.2,1.1,1.0,1.2,1.1];
const C44a=[0.0,0.1,-0.1,0.0,0.1,0.0,-0.1,0.0,0.1,0.0, 0.1,0.6,2.0,1.8,1.7,1.5,1.3,1.0,0.6,0.1, -0.5,-1.0,-1.5,-2.0,-2.5,-3.0,-3.2,-3.5,-3.7,-3.9, -4.1,-4.2,-4.4,-4.6,-4.3,-4.1,-4.3,-4.0,-3.9,-4.0,-3.8];
const C44b=[0.0,0.1,-0.1,0.0,0.1,0.0,-0.1,0.0,0.1,0.0, 0.1,0.2,0.3,0.4,0.5,0.6,0.7,0.8,0.9,1.0, 1.1,1.0,0.9,1.1,1.0,0.9,1.1,1.0,0.8,1.0, 0.9,1.1,0.9,0.8,1.0,0.9,0.8,1.0,0.9,0.8,0.9];
const C44c=[0.1,0.0,0.1,0.0,-0.1,0.0,0.1,0.0,-0.1,-0.1, -0.2,-0.4,-0.6,-0.8,-1.0,-1.2,-1.4,-1.6,-1.8,-2.0, -2.2,-2.4,-2.6,-2.8,-3.0,-3.1,-3.2,-3.3,-3.4,-3.5, -3.6,-3.7,-3.8,-3.9,-4.0,-4.1,-4.2,-4.3,-4.4,-4.5,-4.6];
const C44d=[0.1,0.0,0.1,0.0,0.1,0.0,-0.1,0.0,0.1,0.0, 0.1,0.2,0.3,0.5,0.6,0.7,0.8,0.9,1.0,1.1, 1.0,1.2,1.1,1.0,1.2,1.1,1.0,1.2,1.1,1.0, 1.2,1.1,1.0,1.2,1.0,1.1,0.9,1.1,1.0,1.1,0.9];

// panel tables built from the named arrays: [row][col] -> [a,b,c,d]
const ipsi = [
  [[I11a,I11b,I11c,I11d],[I12a,I12b,I12c,I12d],[I13a,I13b,I13c,I13d],[I14a,I14b,I14c,I14d]],
  [[I21a,I21b,I21c,I21d],[I22a,I22b,I22c,I22d],[I23a,I23b,I23c,I23d],[I24a,I24b,I24c,I24d]],
  [[I31a,I31b,I31c,I31d],[I32a,I32b,I32c,I32d],[I33a,I33b,I33c,I33d],[I34a,I34b,I34c,I34d]],
  [[I41a,I41b,I41c,I41d],[I42a,I42b,I42c,I42d],[I43a,I43b,I43c,I43d],[I44a,I44b,I44c,I44d]]
];
const contra = [
  [[C11a,C11b,C11c,C11d],[C12a,C12b,C12c,C12d],[C13a,C13b,C13c,C13d],[C14a,C14b,C14c,C14d]],
  [[C21a,C21b,C21c,C21d],[C22a,C22b,C22c,C22d],[C23a,C23b,C23c,C23d],[C24a,C24b,C24c,C24d]],
  [[C31a,C31b,C31c,C31d],[C32a,C32b,C32c,C32d],[C33a,C33b,C33c,C33d],[C34a,C34b,C34c,C34d]],
  [[C41a,C41b,C41c,C41d],[C42a,C42b,C42c,C42d],[C43a,C43b,C43c,C43d],[C44a,C44b,C44c,C44d]]
];

const FONT = '"Liberation Sans", Arial, Helvetica, sans-serif';
const colI = [64,220,376,532], colC = [739,895,1052,1208], rowT = [33,156,280,403];
const PW = 137, PH = 99;
const lineStyles = [
  {color:'#000000', width:3, type:'solid'},
  {color:'#8a8a8a', width:3, type:'solid'},
  {color:'#a0a0a0', width:2.6, type:[2.6,3.0]},
  {color:'#000000', width:2.2, type:[2.2,3.3]}
];
const grid = [], xAxis = [], yAxis = [], series = [];
function addPanel(data, left, top, showY, showX){
  const g = grid.length;
  grid.push({left:left, top:top, width:PW, height:PH});
  const tick = {show:true, inside:true, length:4, lineStyle:{color:'#000', width:1}};
  const axl = {show:true, onZero:false, lineStyle:{color:'#000', width:1.5}};
  const lab = {color:'#000', fontSize:15, fontWeight:'bold', fontFamily:FONT};
  xAxis.push({gridIndex:g, type:'value', min:5, max:45, position:'bottom', axisLine:axl,
    axisTick:Object.assign({customValues:xTicks}, tick),
    axisLabel:Object.assign({show:showX, customValues:xTicks, margin:7}, lab), splitLine:{show:false}});
  xAxis.push({gridIndex:g, type:'value', min:5, max:45, position:'top', axisLine:axl,
    axisTick:Object.assign({customValues:xTicks}, tick), axisLabel:{show:false}, splitLine:{show:false}});
  yAxis.push({gridIndex:g, type:'value', min:-10, max:5, interval:5, position:'left', axisLine:axl,
    axisTick:Object.assign({customValues:yTicks}, tick),
    axisLabel:Object.assign({show:showY, customValues:yTicks, margin:7}, lab), splitLine:{show:false}});
  yAxis.push({gridIndex:g, type:'value', min:-10, max:5, interval:5, position:'right', axisLine:axl,
    axisTick:Object.assign({customValues:yTicks}, tick), axisLabel:{show:false}, splitLine:{show:false}});
  const xi = 2*g, yi = 2*g;
  data.forEach(function(arr, k){
    series.push({type:'line', xAxisIndex:xi, yAxisIndex:yi, symbol:'none', silent:true, animation:false,
      lineStyle:lineStyles[k], data: time.map(function(t,j){ return [t, arr[j]]; })});
  });
  markerTimes.forEach(function(m){
    series.push({type:'line', xAxisIndex:xi, yAxisIndex:yi, symbol:'none', silent:true, animation:false,
      lineStyle:{color:'#0000ff', width:1.4}, data: markerSpan.map(function(v){ return [m, v]; })});
  });
}
[ipsi, contra].forEach(function(hemi, h){
  const cols = h === 0 ? colI : colC;
  hemi.forEach(function(row, r){
    row.forEach(function(panel, c){
      panel.forEach(function(a, k){ if (a.length !== time.length) console.error('length', h, r, c, k, a.length); });
      addPanel(panel, cols[c], rowT[r], c === 0, r === 3);
    });
  });
});

const yTitle = '{n|Δc}{s|HbO2}{n|, Δc}{s|Hb}{n| / μM}';
const yRich = {
  n:{fontSize:21, fontWeight:'bold', fontFamily:FONT, lineHeight:26, verticalAlign:'middle', fill:'#000'},
  s:{fontSize:13, fontWeight:'bold', fontFamily:FONT, lineHeight:13, verticalAlign:'bottom', fill:'#000'}
};
const legRich = {
  n:{fontSize:21, fontWeight:'bold', fontFamily:FONT, lineHeight:26, verticalAlign:'middle', fill:'#000'},
  s:{fontSize:13, fontWeight:'bold', fontFamily:FONT, lineHeight:13, verticalAlign:'bottom', fill:'#000'}
};
function txt(x, y, text, size, align){
  return {type:'text', x:x, y:y, silent:true, style:{text:text, fontSize:size, fontWeight:'bold', fontFamily:FONT, fill:'#000', align:align||'center', verticalAlign:'middle'}};
}
const graphic = [
  txt(374, 18, 'Ipsilateral hemisphere', 21),
  txt(1045, 18, 'Contralateral hemisphere', 21),
  txt(368, 549, 'time / s', 20),
  txt(1041, 549, 'time / s', 20),
  {type:'text', x:17, y:268, rotation:Math.PI/2, silent:true, style:{text:yTitle, rich:yRich, align:'center', verticalAlign:'middle'}},
  {type:'text', x:692, y:268, rotation:Math.PI/2, silent:true, style:{text:yTitle, rich:yRich, align:'center', verticalAlign:'middle'}},
  txt(67, 477, markerLabels.join(' '), 15, 'left'),
  {type:'rect', silent:true, shape:{x:222.5, y:574.5, width:937, height:100}, style:{fill:'none', stroke:'#222', lineWidth:1.2}},
  {type:'line', silent:true, shape:{x1:257, y1:608, x2:318, y2:608}, style:{stroke:'#000', lineWidth:8}},
  {type:'text', x:327, y:606, silent:true, style:{text:'{n|ΔHbO}{s|2}{n| (intra)}', rich:legRich, align:'left', verticalAlign:'middle'}},
  {type:'line', silent:true, shape:{x1:492, y1:607, x2:555, y2:607}, style:{stroke:'#bdbdbd', lineWidth:8}},
  {type:'text', x:561, y:606, silent:true, style:{text:'{n|ΔHb (intra)}', rich:legRich, align:'left', verticalAlign:'middle'}},
  {type:'line', silent:true, shape:{x1:700, y1:607, x2:762, y2:607}, style:{stroke:'#b5b5b5', lineWidth:5, lineDash:[5,6]}},
  {type:'text', x:775, y:606, silent:true, style:{text:'{n|ΔHbO}{s|2}{n| (extra)}', rich:legRich, align:'left', verticalAlign:'middle'}},
  {type:'line', silent:true, shape:{x1:938, y1:607, x2:1002, y2:607}, style:{stroke:'#000', lineWidth:5.5, lineDash:[5.5,4]}},
  {type:'text', x:1004, y:606, silent:true, style:{text:'{n|ΔHb (extra)}', rich:legRich, align:'left', verticalAlign:'middle'}}
];

const chart = echarts.init(document.getElementById('c'), null, {renderer:'canvas'});
chart.setOption({backgroundColor:'#ffffff', animation:false, grid:grid, xAxis:xAxis, yAxis:yAxis, series:series, graphic:graphic});
</script>
</body></html>
